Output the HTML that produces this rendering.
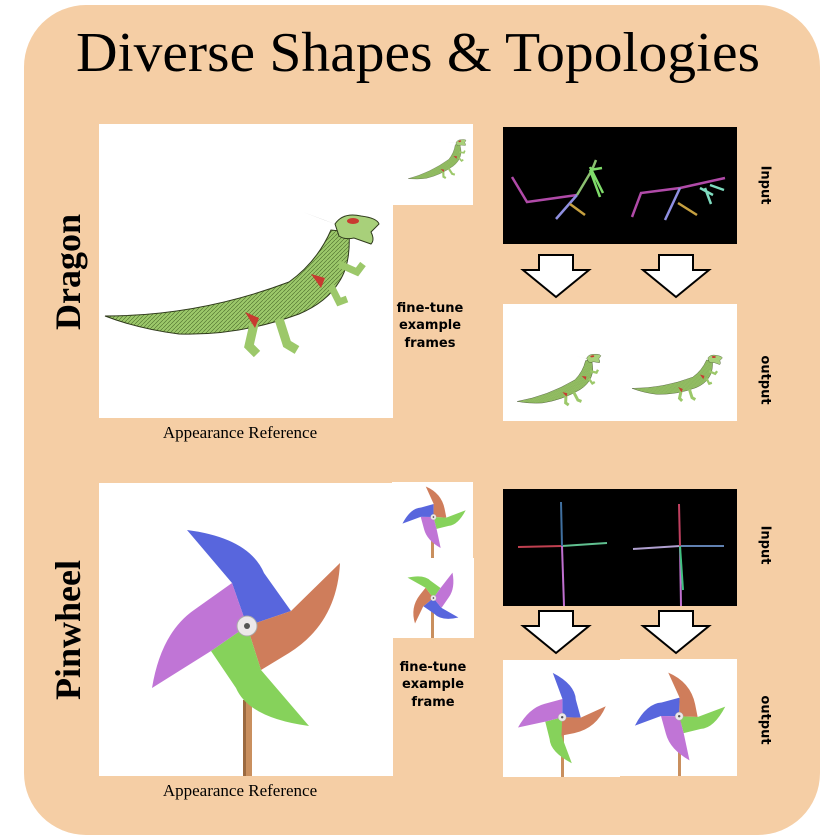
<!DOCTYPE html>
<html><head><meta charset="utf-8"><style>
html,body{margin:0;padding:0;background:#fff;}
svg{display:block}
</style></head><body>
<svg width="838" height="840" viewBox="0 0 838 840" xmlns="http://www.w3.org/2000/svg">
<defs>
  <pattern id="scl" width="4" height="4" patternUnits="userSpaceOnUse">
    <rect width="4" height="4" fill="#9cc86a"/>
    <path d="M0,4 L4,0" stroke="#4a6a2a" stroke-width="0.6"/>
  </pattern>
  <g id="dragon">
    <path d="M6,192 Q100,192 190,158 Q218,138 232,106 L250,108 Q252,140 240,158 Q228,178 200,190 Q140,212 80,210 Q40,205 6,192 Z" fill="url(#scl)" stroke="#2f3a1c" stroke-width="1"/>
    <path d="M236,100 Q244,88 262,92 Q278,94 280,100 L272,108 Q276,116 272,120 L255,114 Q246,116 240,112 Z" fill="#a8d07a" stroke="#2f3a1c" stroke-width="1"/>
    <path d="M204,88 L225,96 L236,100 Z" fill="#888"/>
    <ellipse cx="254" cy="97" rx="6" ry="3" fill="#c83a30"/>
    <path d="M240,140 L258,148 L264,140" stroke="#9cc86a" stroke-width="7" fill="none"/>
    <path d="M232,162 L240,178 L248,175" stroke="#9cc86a" stroke-width="7" fill="none"/>
    <path d="M155,200 L150,222 L158,230" stroke="#9cc86a" stroke-width="9" fill="none"/>
    <path d="M180,195 L188,220 L198,226" stroke="#9cc86a" stroke-width="9" fill="none"/>
    <path d="M212,150 L226,154 L222,164 Z M146,188 L160,194 L156,204 Z" fill="#c83a30"/>
  </g>
  <g id="blades">
    <path d="M148,143 L133,100 L88,47 Q150,55 165,90 L192,128 Z" fill="#5866dd"/>
    <path d="M148,143 L192,128 L241,80 Q238,140 190,170 L162,187 Z" fill="#cf7d5b"/>
    <path d="M148,143 L162,187 L210,243 Q150,235 137,205 L112,168 Z" fill="#86d25b"/>
    <path d="M148,143 L112,168 L53,205 Q62,150 95,127 L133,100 Z" fill="#c075d6"/>
    <circle cx="148" cy="143" r="10" fill="#ece8ea" stroke="#aaa" stroke-width="1"/>
    <circle cx="148" cy="143" r="3" fill="#555"/>
  </g>
  <g id="arrow">
    <path d="M0,0 H34 V15 H50 L17,42 L-16,15 H0 Z" fill="#fff" stroke="#000" stroke-width="2"/>
  </g>
</defs>
<rect x="24" y="5" width="796" height="830" rx="62" fill="#f5cea5"/>
<text x="418" y="71" text-anchor="middle" font-family="Liberation Serif, serif" font-size="56" textLength="684" lengthAdjust="spacingAndGlyphs">Diverse Shapes &amp; Topologies</text>

<!-- Dragon section -->
<rect x="99" y="124" width="294" height="294" fill="#fff"/>
<rect x="392" y="124" width="81" height="81" fill="#fff"/>
<use href="#dragon" x="99" y="124"/>
<use href="#dragon" transform="translate(403,124) scale(0.24) rotate(-15,150,150)"/>
<text transform="translate(68,272) rotate(-90)" text-anchor="middle" dominant-baseline="central" font-family="Liberation Serif, serif" font-weight="bold" font-size="36">Dragon</text>
<text x="240" y="438" text-anchor="middle" font-family="Liberation Serif, serif" font-size="17">Appearance Reference</text>
<g font-family="DejaVu Sans, sans-serif" font-weight="bold" font-size="13" text-anchor="middle">
<text x="430" y="312">fine-tune</text>
<text x="430" y="329">example</text>
<text x="430" y="347">frames</text>
</g>
<rect x="503" y="127" width="234" height="117" fill="#000"/>
<g fill="none" stroke-width="2.5">
  <path d="M512,177 L527,202 L577,195" stroke="#b04aa8"/>
  <path d="M577,195 L592,170 L596,160" stroke="#8bc070"/>
  <path d="M577,195 L556,219" stroke="#8f8fe0"/>
  <path d="M570,204 L585,215" stroke="#c6a040"/>
  <path d="M590,170 L600,197 M590,170 L602,168 M590,167 L603,193" stroke="#7fdc6a"/>
  <path d="M632,217 L641,193 L680,188 L725,178" stroke="#b04aa8"/>
  <path d="M680,188 L665,220" stroke="#8f8fe0"/>
  <path d="M678,203 L697,215" stroke="#c6a040"/>
  <path d="M700,188 L713,195 M705,188 L711,204 M710,185 L724,190" stroke="#7fdcc0"/>
</g>
<use href="#arrow" x="539" y="255"/>
<use href="#arrow" x="659" y="255"/>
<rect x="503" y="304" width="234" height="117" fill="#fff"/>
<use href="#dragon" transform="translate(512,330) scale(0.33) rotate(-10,150,150)"/>
<use href="#dragon" transform="translate(630,325) scale(0.33)"/>
<g font-family="DejaVu Sans, sans-serif" font-weight="bold" font-size="13">
<text transform="translate(765,185) rotate(90)" text-anchor="middle" dominant-baseline="central">Input</text>
<text transform="translate(765,380) rotate(90)" text-anchor="middle" dominant-baseline="central">output</text>
</g>

<!-- Pinwheel section -->
<rect x="99" y="483" width="294" height="293" fill="#fff"/>
<rect x="392" y="482" width="81" height="77" fill="#fff"/>
<rect x="392" y="558" width="82" height="80" fill="#fff"/>
<rect x="243" y="700" width="9" height="76" fill="#c98f5e"/>
<rect x="243" y="700" width="3" height="76" fill="#9c6a40"/>
<use href="#blades" x="99" y="483"/>
<rect x="431" y="520" width="3" height="38" fill="#c98f5e"/>
<use href="#blades" transform="translate(392,477) scale(0.28) rotate(-70,148,143)"/>
<rect x="431" y="600" width="3" height="38" fill="#c98f5e"/>
<use href="#blades" transform="translate(392,558) scale(0.28) rotate(160,148,143)"/>
<text transform="translate(68,630) rotate(-90)" text-anchor="middle" dominant-baseline="central" font-family="Liberation Serif, serif" font-weight="bold" font-size="36">Pinwheel</text>
<text x="240" y="796" text-anchor="middle" font-family="Liberation Serif, serif" font-size="17">Appearance Reference</text>
<g font-family="DejaVu Sans, sans-serif" font-weight="bold" font-size="13" text-anchor="middle">
<text x="433" y="671">fine-tune</text>
<text x="433" y="688">example</text>
<text x="433" y="706">frame</text>
</g>
<rect x="503" y="489" width="234" height="117" fill="#000"/>
<g fill="none" stroke-width="2">
  <path d="M518,547 L562,546" stroke="#c04050"/>
  <path d="M562,546 L607,543" stroke="#60c090"/>
  <path d="M561,502 L562,546" stroke="#4070a0"/>
  <path d="M562,546 L564,606" stroke="#c070d0"/>
  <path d="M633,549 L680,546" stroke="#b0a0d0"/>
  <path d="M680,546 L724,546" stroke="#6080b0"/>
  <path d="M679,504 L680,546" stroke="#c04060"/>
  <path d="M680,546 L681,606" stroke="#c070d0"/>
  <path d="M680,546 L683,590" stroke="#40c080"/>
</g>
<use href="#arrow" x="539" y="611"/>
<use href="#arrow" x="659" y="611"/>
<rect x="503" y="660" width="117" height="117" fill="#fff"/>
<rect x="620" y="659" width="117" height="117" fill="#fff"/>
<rect x="561" y="720" width="3" height="57" fill="#c98f5e"/>
<rect x="678" y="720" width="3" height="56" fill="#c98f5e"/>
<use href="#blades" transform="translate(503,660) scale(0.4) rotate(20,148,143)"/>
<use href="#blades" transform="translate(620,659) scale(0.4) rotate(-70,148,143)"/>
<g font-family="DejaVu Sans, sans-serif" font-weight="bold" font-size="13">
<text transform="translate(765,545) rotate(90)" text-anchor="middle" dominant-baseline="central">Input</text>
<text transform="translate(765,720) rotate(90)" text-anchor="middle" dominant-baseline="central">output</text>
</g>
</svg>
</body></html>
